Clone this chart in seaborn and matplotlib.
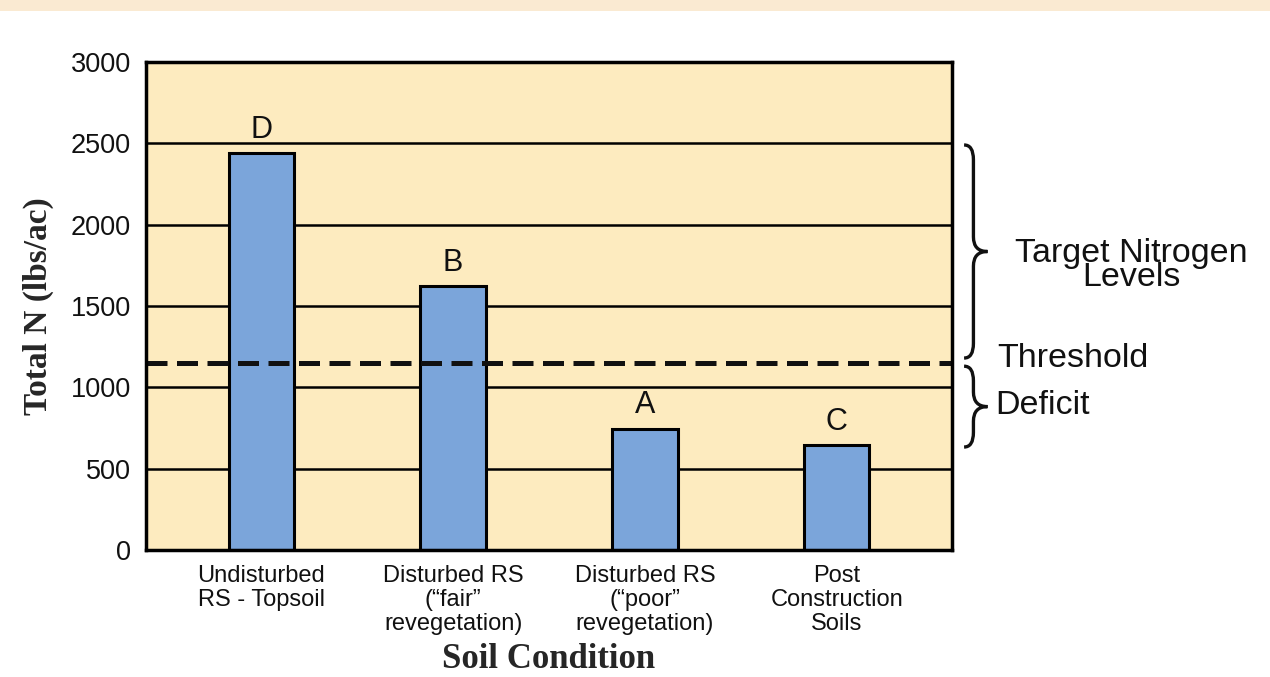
import matplotlib
matplotlib.use("Agg")
import matplotlib.pyplot as plt
from matplotlib.patches import PathPatch, Rectangle
from matplotlib.path import Path
import matplotlib.transforms as mtransforms
import seaborn as sns

# Soil nitrogen data
categories = [
    "Undisturbed\nRS - Topsoil",
    "Disturbed RS\n(\u201cfair\u201d\nrevegetation)",
    "Disturbed RS\n(\u201cpoor\u201d\nrevegetation)",
    "Post\nConstruction\nSoils",
]
total_n = [2440, 1620, 745, 645]
group_letters = ["D", "B", "A", "C"]
threshold = 1150
target_range = [1180, 2490]
deficit_range = [633, 1130]
y_ticks = [0, 500, 1000, 1500, 2000, 2500, 3000]

sns.set_theme(style="white")
plt.rcParams["font.family"] = ["Liberation Sans", "DejaVu Sans"]

fig = plt.figure(figsize=(12.7, 6.77), dpi=100)
fig.patch.set_facecolor("white")
fig.patches.append(Rectangle((0, 1 - 11 / 677), 1, 11 / 677, transform=fig.transFigure,
                             facecolor="#FAEAD2", edgecolor="none", zorder=0))

ax = fig.add_axes([0.115, 0.1876, 0.6346, 0.7208])
ax.set_facecolor("#FDEBBF")

sns.barplot(x=categories, y=total_n, color="#7BA5DA", saturation=1, width=0.34,
            edgecolor="black", linewidth=2.2, ax=ax, zorder=3)

ax.set_xlim(-0.6, 3.6)
ax.set_ylim(0, 3000)
ax.set_yticks(y_ticks)
ax.set_yticklabels([str(t) for t in y_ticks], fontsize=19.5, color="#111111")
ax.tick_params(axis="y", length=0, pad=11)
ax.tick_params(axis="x", length=0, pad=11, labelsize=17, labelcolor="#111111")
for lbl in ax.get_xticklabels():
    lbl.set_multialignment("center")
    lbl.set_linespacing(1.1)

ax.yaxis.grid(True, color="black", linewidth=1.8)
ax.xaxis.grid(False)
ax.set_axisbelow(True)
for sp in ax.spines.values():
    sp.set_color("black")
    sp.set_linewidth(2.5)
    sp.set_zorder(6)

# threshold line
ax.axhline(threshold, color="#111111", linewidth=3.6, linestyle=(0, (4.2, 1.9)), zorder=5)

# group letters above bars
for i, (v, letter) in enumerate(zip(total_n, group_letters)):
    ax.annotate(letter, xy=(i, v), xytext=(0, 6), textcoords="offset points",
                ha="center", va="bottom", fontsize=22, color="#111111")

ax.set_ylabel("Total N (lbs/ac)", fontsize=24, fontweight="bold",
              family="Liberation Serif", labelpad=12)
ax.set_xlabel("Soil Condition", fontsize=25, fontweight="bold",
              family="Liberation Serif", labelpad=6)

# curly braces on the right side
trans = mtransforms.blended_transform_factory(ax.transAxes, ax.transData)


def brace(y0, y1, xb=1.015, w=0.029, r=90):
    ym = (y0 + y1) / 2
    xs = xb + w * 0.4
    xt = xb + w
    verts = [
        (xb, y1), (xs, y1), (xs, y1 - r),
        (xs, ym + r),
        (xs, ym), (xt, ym),
        (xs, ym), (xs, ym - r),
        (xs, y0 + r),
        (xs, y0), (xb, y0),
    ]
    codes = [Path.MOVETO, Path.CURVE3, Path.CURVE3,
             Path.LINETO,
             Path.CURVE3, Path.CURVE3,
             Path.CURVE3, Path.CURVE3,
             Path.LINETO,
             Path.CURVE3, Path.CURVE3]
    p = PathPatch(Path(verts, codes), transform=trans, facecolor="none",
                  edgecolor="#111111", linewidth=2.4, clip_on=False)
    ax.add_patch(p)


brace(*target_range)
brace(*deficit_range)

ax.text(1.223, 1750, "Target Nitrogen\nLevels", transform=trans, ha="center", va="center",
        fontsize=24.5, linespacing=0.72, color="#111111", clip_on=False)
ax.text(1.056, 1180, "Threshold", transform=trans, ha="left", va="center",
        fontsize=24.5, color="#111111", clip_on=False)
ax.text(1.054, 891, "Deficit", transform=trans, ha="left", va="center",
        fontsize=24.5, color="#111111", clip_on=False)

fig.savefig("out.png", dpi=100, facecolor=fig.get_facecolor())
